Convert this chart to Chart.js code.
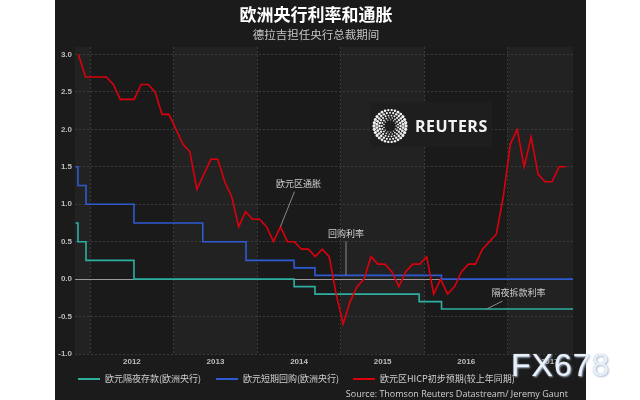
<!DOCTYPE html>
<html>
<head>
<meta charset="utf-8">
<script src="https://cdn.jsdelivr.net/npm/chart.js@4.4.0/dist/chart.umd.min.js"></script>
<style>
  html, body { margin: 0; padding: 0; background: #fff; }
  #wrap { position: relative; width: 640px; height: 400px; overflow: hidden; font-family: "Noto Sans CJK SC", "Noto Sans", sans-serif; }
  #panel { position: absolute; left: 55px; top: 0; width: 531px; height: 400px; background: #1b1b1b; }
  #panel canvas { position: absolute; left: 0; top: 0; }
  .title { position: absolute; left: 0; width: 632px; text-align: center; white-space: nowrap; }
  #t1 { top: 2px; font-size: 17px; font-weight: bold; color: #fff; line-height: 24px; }
  #t2 { top: 26px; font-size: 11.5px; color: #c4c4c4; line-height: 16px; }
  .lg { position: absolute; top: 372px; height: 14px; line-height: 14px; font-size: 9px; color: #cfcfcf; white-space: nowrap; }
  .lg i { position: absolute; left: 0; top: 6px; width: 22px; height: 2px; }
  .lg span { position: absolute; left: 27px; top: 0; }
  #src { position: absolute; right: 72px; top: 387px; font-family: "Open Sans", sans-serif; font-size: 9px; line-height: 14px; color: #cfcfcf; white-space: nowrap; }
  #wm { position: absolute; left: 511px; top: 349px; font-family: "Liberation Sans", Arial, sans-serif; font-size: 32px; line-height: 32px; color: #eaf0f8; letter-spacing: 1px; text-shadow: 0 0 1px #9db2cc, 1px 1px 2px #aebfd6; white-space: nowrap; }
</style>
</head>
<body>
<div id="wrap">
  <div id="panel"><canvas id="chart" width="531" height="400"></canvas></div>
  <div class="title" id="t1">欧洲央行利率和通胀</div>
  <div class="title" id="t2">德拉吉担任央行总裁期间</div>
  <div class="lg" style="left:78px"><i style="background:#2db0a0"></i><span>欧元隔夜存款(欧洲央行)</span></div>
  <div class="lg" style="left:216px"><i style="background:#2f5bd2"></i><span>欧元短期回购(欧洲央行)</span></div>
  <div class="lg" style="left:353px"><i style="background:#dc000c"></i><span>欧元区HICP初步预期(较上年同期)</span></div>
  <div id="src">Source: Thomson Reuters Datastream/ Jeremy Gaunt</div>
  <div id="wm">FX678</div>
</div>
<script>
// euro zone HICP flash, y/y %, monthly from Nov 2011 to Sep 2017
const inflationStart = [2011, 11];
const inflation = [
  3.0, 2.7,
  2.7, 2.7, 2.7, 2.6, 2.4, 2.4, 2.4, 2.6, 2.6, 2.5, 2.2, 2.2,
  2.0, 1.8, 1.7, 1.2, 1.4, 1.6, 1.6, 1.3, 1.1, 0.7, 0.9, 0.8,
  0.8, 0.7, 0.5, 0.7, 0.5, 0.5, 0.4, 0.4, 0.3, 0.4, 0.3, -0.2,
  -0.6, -0.3, -0.1, 0.0, 0.3, 0.2, 0.2, 0.1, -0.1, 0.1, 0.2, 0.2,
  0.3, -0.2, 0.0, -0.2, -0.1, 0.1, 0.2, 0.2, 0.4, 0.5, 0.6, 1.1,
  1.8, 2.0, 1.5, 1.9, 1.4, 1.3, 1.3, 1.5, 1.5
];

// ECB policy rates: date of change and new level
const rateDates = ['2011-10-29', '2011-11-09', '2011-12-14', '2012-07-11', '2013-05-08', '2013-11-13',
                   '2014-06-11', '2014-09-10', '2015-12-09', '2016-03-16', '2017-10-12'];
const depositRate = [0.75, 0.50, 0.25, 0.00, 0.00, 0.00, -0.10, -0.20, -0.30, -0.40, -0.40];
const refiRate    = [1.50, 1.25, 1.00, 0.75, 0.50, 0.25, 0.15, 0.05, 0.05, 0.00, 0.00];

const axisStart = '2011-10-27';
const axisEnd = '2017-10-12';
const yearTicks = [2012, 2013, 2014, 2015, 2016, 2017];
const valueTicks = [-1.0, -0.5, 0.0, 0.5, 1.0, 1.5, 2.0, 2.5, 3.0];

const colors = {
  teal: '#2db0a0',
  blue: '#2f5bd2',
  red: '#dc000c',
  grid: '#3b3b3b',
  zero: '#9a9a9a',
  tick: '#bdbdbd',
  bandLight: '#222222',
  bandDark: '#1a1a1a',
  note: '#cfcfcf'
};

function toYear(s) {
  const d = new Date(s + 'T00:00:00Z');
  const y = d.getUTCFullYear();
  const start = Date.UTC(y, 0, 1);
  return y + (d - start) / (Date.UTC(y + 1, 0, 1) - start);
}

const inflationPts = inflation.map((v, i) => {
  const m = inflationStart[1] - 1 + i;
  return { x: inflationStart[0] + (m + 0.33) / 12, y: v };
});
const depositPts = rateDates.map((d, i) => ({ x: toYear(d), y: depositRate[i] }));
const refiPts = rateDates.map((d, i) => ({ x: toYear(d), y: refiRate[i] }));

const notes = [
  { text: '欧元区通胀', at: () => inflationPts[29], line: [14, -35], label: [18, -43] },
  { text: '回购利率', at: () => ({ x: 2015.062, y: 0.05 }), line: [0, -34], label: [0, -42] },
  { text: '隔夜拆款利率', at: () => ({ x: 2016.743, y: -0.40 }), line: [16, -8], label: [32, -16] }
];

const decor = {
  id: 'decor',
  beforeDraw(chart) {
    const { ctx, chartArea: a, scales: { x } } = chart;
    const edges = [x.min, ...yearTicks, x.max];
    ctx.save();
    for (let i = 0; i < edges.length - 1; i++) {
      const l = x.getPixelForValue(edges[i]);
      const r = x.getPixelForValue(edges[i + 1]);
      ctx.fillStyle = i % 2 ? colors.bandDark : colors.bandLight;
      ctx.fillRect(l, a.top, r - l, a.bottom - a.top);
    }
    ctx.restore();
  },
  beforeDatasetsDraw(chart) {
    // Reuters logo box
    const { ctx } = chart;
    ctx.save();
    ctx.fillStyle = '#1e1e1e';
    ctx.fillRect(315, 102, 122, 45);
    const cx = 335, cy = 126;
    const rings = [[16, 30, 1.5], [13.2, 26, 1.3], [10.6, 22, 1.1], [8.2, 17, 0.9], [6.2, 13, 0.7]];
    ctx.fillStyle = '#f2f2f2';
    rings.forEach(([r, n, s], k) => {
      for (let j = 0; j < n; j++) {
        const ang = (j + (k % 2) * 0.5) / n * Math.PI * 2;
        const size = s * (0.75 + 0.35 * Math.abs(Math.cos(ang)));
        ctx.beginPath();
        ctx.arc(cx + r * Math.cos(ang), cy + r * Math.sin(ang), size, 0, Math.PI * 2);
        ctx.fill();
      }
    });
    ctx.font = 'bold 16px "Open Sans", sans-serif';
    ctx.letterSpacing = '0.5px';
    ctx.textBaseline = 'alphabetic';
    ctx.fillText('REUTERS', 360, 132);
    ctx.restore();
  },
  afterDatasetsDraw(chart) {
    const { ctx, scales: { x, y } } = chart;
    ctx.save();
    ctx.font = '9px "Noto Sans CJK SC", sans-serif';
    ctx.textAlign = 'center';
    ctx.textBaseline = 'middle';
    notes.forEach(n => {
      const p = n.at();
      const px = x.getPixelForValue(p.x);
      const py = y.getPixelForValue(p.y);
      ctx.strokeStyle = '#8a8a8a';
      ctx.lineWidth = 1;
      ctx.beginPath();
      ctx.moveTo(px, py);
      ctx.lineTo(px + n.line[0], py + n.line[1]);
      ctx.stroke();
      ctx.fillStyle = colors.note;
      ctx.fillText(n.text, px + n.label[0], py + n.label[1]);
    });
    ctx.restore();
  }
};

const tickFont = { family: '"Liberation Sans", Arial, sans-serif', size: 8, weight: 'bold' };

new Chart(document.getElementById('chart'), {
  type: 'line',
  data: {
    datasets: [
      { label: '欧元区HICP初步预期(较上年同期)', data: inflationPts, borderColor: colors.red, borderWidth: 1.6, pointRadius: 0, tension: 0 },
      { label: '欧元短期回购(欧洲央行)', data: refiPts, stepped: 'before', borderColor: colors.blue, borderWidth: 1.6, pointRadius: 0 },
      { label: '欧元隔夜存款(欧洲央行)', data: depositPts, stepped: 'before', borderColor: colors.teal, borderWidth: 1.6, pointRadius: 0 }
    ]
  },
  options: {
    responsive: false,
    animation: false,
    devicePixelRatio: 1,
    layout: { padding: { left: 0, top: 47, right: 13, bottom: 26 } },
    scales: {
      x: {
        type: 'linear',
        min: toYear(axisStart),
        max: toYear(axisEnd),
        afterBuildTicks: (scale) => { scale.ticks = yearTicks.map(v => ({ value: v })); },
        afterFit: (scale) => { scale.height = 20; },
        border: { display: false, dash: [2, 2] },
        grid: { color: colors.grid, drawTicks: false },
        ticks: {
          autoSkip: false,
          maxRotation: 0,
          padding: 3,
          labelOffset: 41.8,
          color: colors.tick,
          font: tickFont,
          callback: (v) => String(v)
        }
      },
      y: {
        min: -1.0,
        max: 3.1,
        afterBuildTicks: (scale) => { scale.ticks = valueTicks.map(v => ({ value: v })); },
        afterFit: (scale) => { scale.width = 20; },
        border: {
          display: false,
          dash: (ctx) => (ctx.tick && ctx.tick.value === 0 ? [] : [2, 2])
        },
        grid: {
          drawTicks: false,
          color: (ctx) => (ctx.tick && ctx.tick.value === 0 ? colors.zero : colors.grid)
        },
        ticks: {
          padding: 3,
          color: colors.tick,
          font: tickFont,
          callback: (v) => Number(v).toFixed(1)
        }
      }
    },
    plugins: {
      legend: { display: false },
      tooltip: { enabled: false }
    }
  },
  plugins: [decor]
});
</script>
</body>
</html>
